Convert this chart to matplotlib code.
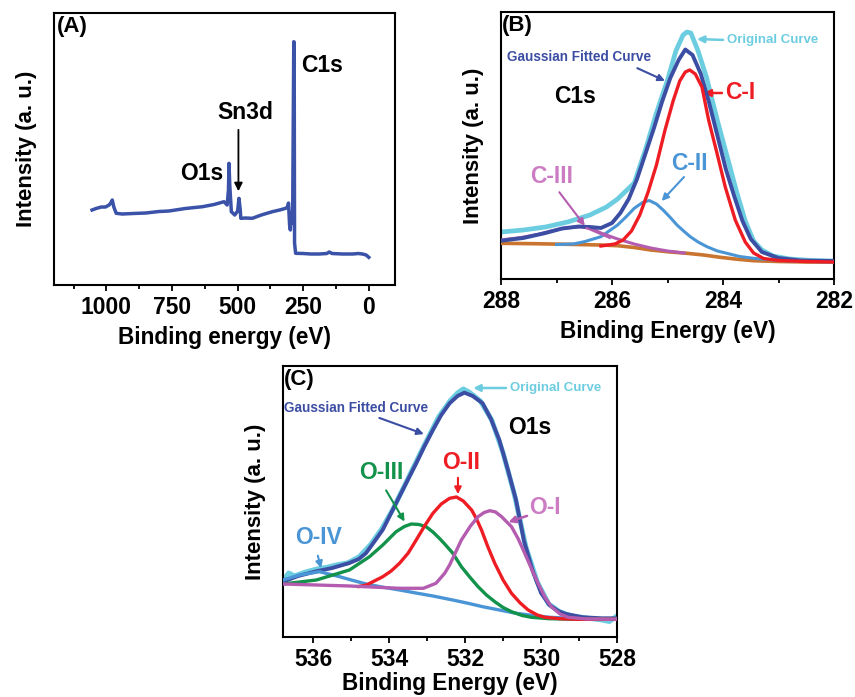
"""
XPS figure: (A) survey spectrum, (B) C1s and (C) O1s Gaussian fits.
"""

import matplotlib
matplotlib.use("Agg")
import matplotlib.pyplot as plt
from matplotlib.ticker import FixedLocator

plt.rcParams["font.family"] = ["Liberation Sans", "DejaVu Sans"]
plt.rcParams["font.weight"] = "bold"
plt.rcParams["axes.labelweight"] = "bold"

# ---------------- (A) survey ----------------
survey_ev = [1055, 1040, 1020, 1004, 990, 984, 978, 972, 963, 940, 900, 850, 800,
             762, 700, 634, 590, 552, 540, 535, 533, 530, 524, 511, 500, 495, 490,
             488, 470, 444, 410, 368, 340, 317, 310, 306, 302, 299, 296, 292, 290,
             286, 284.5, 283, 279, 250, 220, 189, 160, 151, 140, 100, 62, 40, 24, 10, 0]
survey_int = [75, 76.5, 78, 78, 80, 82, 85, 78, 71.7, 71, 71.5, 72, 73.5,
              74, 76.5, 78.3, 80.5, 83.3, 80, 95, 121.7, 100, 73.3, 70, 74, 86.7, 75,
              66.7, 67, 66.7, 70, 73.3, 75, 76.7, 78, 82, 60, 55, 72, 62, 80,
              243.3, 243, 42, 31.7, 31.5, 31, 31, 31.5, 33, 31.5, 31, 31, 31.5, 31, 30, 27.7]

# ---------------- (B) C1s ----------------
c1s_orig_ev = [288.0, 287.6, 287.2, 286.8, 286.4, 286.1, 285.9, 285.75, 285.6, 285.4,
               285.2, 285.0, 284.85, 284.72, 284.65, 284.58, 284.45, 284.3, 284.1,
               283.9, 283.75, 283.6, 283.45, 283.3, 283.1, 282.8, 282.4, 282.0]
c1s_orig = [47, 49, 52, 57, 64, 72, 80, 88, 96, 129,
            166, 199, 228, 244, 247, 246, 228, 202, 158,
            117, 86, 58, 38, 29, 23, 20, 18.5, 18]

c1s_fit_ev = [288.0, 287.6, 287.2, 286.9, 286.6, 286.4, 286.2, 286.0, 285.85, 285.7,
              285.55, 285.4, 285.25, 285.1, 284.95, 284.8, 284.68, 284.55, 284.4,
              284.25, 284.1, 283.95, 283.8, 283.65, 283.5, 283.3, 283.0, 282.6, 282.0]
c1s_fit = [38.3, 41, 46, 50.5, 52.5, 52, 51, 56, 66, 80,
           100, 125, 150, 177, 201, 219, 229.5, 224, 205,
           176, 143, 110, 83, 58, 40, 27, 21, 18.5, 18]

c1_ev = [286.2, 285.95, 285.8, 285.65, 285.5, 285.35, 285.2, 285.05, 284.9, 284.78,
         284.68, 284.6, 284.5, 284.38, 284.26, 284.11, 283.96, 283.78, 283.6, 283.45,
         283.27, 283.0, 282.5, 282.0]
c1 = [33, 35, 39, 48, 64, 87, 114, 148, 178, 198,
      207, 209, 205, 192, 159, 126, 92, 59, 37, 26,
      20.5, 18.5, 17.5, 17]

c2_ev = [287.0, 286.7, 286.5, 286.2, 285.9, 285.75, 285.6, 285.45, 285.33, 285.2,
         285.08, 284.95, 284.83, 284.7, 284.59, 284.45, 284.29, 284.1, 283.93, 283.7,
         283.45, 283.0, 282.5, 282.0]
c2 = [34.5, 35, 37.3, 42.3, 54, 62, 70.7, 76.5, 78.5, 75,
      69, 61.5, 54, 47.5, 42.3, 37, 32.3, 28, 25.7, 22.5,
      20.7, 18.5, 17.5, 17]

c3_ev = [288.0, 287.64, 287.3, 287.1, 286.85, 286.56, 286.35, 286.2, 285.9, 285.6,
         285.3, 285.0, 284.7]
c3 = [39, 41.5, 45, 48, 51, 52.3, 50, 46, 40, 35, 31, 28, 26]

c_base_ev = [288.0, 287.4, 286.8, 286.2, 285.9, 285.6, 285.3, 284.95, 284.65, 284.35,
             284.05, 283.75, 283.45, 283.0, 282.5, 282.0]
c_base = [35.7, 35.3, 34.7, 34.0, 33.3, 31.5, 29, 27, 25.7, 24,
          21.7, 19.8, 18.3, 17.5, 17, 17]

# ---------------- (C) O1s ----------------
o1s_orig_ev = [536.8, 536.65, 536.5, 536.2, 535.9, 535.6, 535.4, 535.1, 534.8, 534.5,
               534.2, 533.9, 533.5, 533.1, 532.7, 532.4, 532.2, 532.05, 531.9, 531.6,
               531.3, 531.0, 530.7, 530.4, 530.1, 529.8, 529.5, 529.2, 528.8, 528.4,
               528.2, 528.0]
o1s_orig = [56, 64, 61, 65, 68, 70, 72, 74, 80, 92,
            108, 128, 159, 190, 220, 236, 244, 248, 245, 236,
            217, 184, 142, 90, 55, 33, 25, 21, 19, 17,
            15.5, 21]

o1s_fit_ev = [536.8, 536.4, 535.92, 535.5, 535.05, 534.8, 534.61, 534.4, 534.17, 533.95,
              533.73, 533.5, 533.29, 533.07, 532.85, 532.63, 532.41, 532.2, 532.02, 531.8,
              531.54, 531.32, 531.1, 530.88, 530.66, 530.45, 530.22, 530.0, 529.78, 529.55,
              529.34, 528.9, 528.4, 528.0]
o1s_fit = [55.3, 61, 65.7, 69, 74, 78, 84, 95, 107.3, 124,
           140.7, 158, 173.7, 191, 207, 222, 233.7, 241, 244.3, 241,
           233.7, 218, 197, 168, 137, 96, 66, 44, 32, 26,
           23, 19.7, 18.7, 18.7]

o1_ev = [536.8, 535.05, 533.73, 533.1, 532.77, 532.54, 532.41, 532.1, 531.86, 531.66,
         531.5, 531.35, 531.2, 531.04, 530.78, 530.6, 530.43, 530.25, 530.08, 529.9,
         529.73, 529.5, 529.29, 528.8, 528.0]
o1 = [53, 51, 48.7, 48.7, 53.7, 63.7, 72, 97, 111, 120.3,
      124.5, 126.3, 125, 120.3, 110.3, 98, 83.7, 68, 53.7, 40,
      30.3, 23, 19.7, 18, 17.7]

o2_ev = [534.8, 534.6, 534.17, 533.95, 533.73, 533.5, 533.29, 533.07, 532.85, 532.63,
         532.41, 532.23, 532.05, 531.83, 531.7, 531.57, 531.4, 531.22, 531.0, 530.78,
         530.55, 530.34, 530.1, 529.9, 529.5, 529.03, 528.0]
o2 = [50.5, 52, 60.3, 66, 73.7, 84, 97, 111, 123.7, 133,
      138.7, 140, 136, 127, 118, 107, 90, 73.7, 57, 43.7,
      34, 27, 22, 19.7, 18.3, 17.7, 17.7]

o3_ev = [536.8, 535.92, 535.05, 534.52, 534.17, 533.82, 533.6, 533.42, 533.22, 533.03,
         532.85, 532.68, 532.54, 532.33, 532.1, 531.88, 531.66, 531.44, 531.22, 531.0,
         530.78, 530.5, 530.26, 529.8, 529.03, 528.0]
o3 = [53, 57, 67, 80.3, 92, 105.3, 110.5, 113, 112.5, 110.3,
      105, 98.7, 93, 84, 70.3, 60, 50.3, 42, 35.3, 29.5,
      25.3, 21.5, 19.7, 18.3, 17.7, 17.7]

o4_ev = [536.8, 536.36, 535.84, 535.31, 535.0, 534.61, 534.2, 533.73, 533.3, 532.85,
         532.33, 531.9, 531.54, 531.1, 530.66, 530.2, 529.78, 529.0, 528.0]
o4 = [57, 62, 65.3, 60.3, 57, 53, 50, 47, 44, 41,
      37, 33.5, 30.3, 27, 23.7, 21.5, 19.7, 18.3, 18]

NAVY = "#3c4ea3"
CYAN = "#6dcde0"
RED = "#ee1d24"
LBLUE = "#4a95d5"
ORCHID = "#b45cb0"
ORCHID_TXT = "#cc7cc3"
ORANGE = "#c9742f"
GREEN = "#12924a"

LBL = 16.5   # size of the peak labels


def style_axes(ax, xlabel, xpad=5):
    for s in ax.spines.values():
        s.set_linewidth(1.5)
    ax.set_yticks([])
    ax.tick_params(axis="x", which="both", direction="out", width=1.3,
                   labelsize=16.5, pad=4)
    ax.tick_params(axis="x", which="major", length=4)
    ax.tick_params(axis="x", which="minor", length=3)
    ax.set_xlabel(xlabel, fontsize=16.3, labelpad=xpad)
    ax.set_ylabel("Intensity (a. u.)", fontsize=16, labelpad=12.5)


def panel_a(ax):
    ax.plot(survey_ev, survey_int, color="#3b52a9", lw=2.5, solid_joinstyle="round")
    ax.set_xlim(1200, -100)
    ax.set_ylim(0, 272)
    ax.set_xticks([1000, 750, 500, 250, 0])
    ax.xaxis.set_minor_locator(FixedLocator([1125, 875, 625, 375, 125]))
    style_axes(ax, "Binding energy (eV)")
    ax.text(0.008, 0.99, "(A)", transform=ax.transAxes, fontsize=16,
            ha="left", va="top")
    ax.text(177, 220, "C1s", fontsize=LBL, ha="center", va="center")
    ax.text(469, 173, "Sn3d", fontsize=LBL, ha="center", va="center")
    ax.text(635, 112, "O1s", fontsize=LBL, ha="center", va="center")
    ax.annotate("", xy=(497, 91), xytext=(497, 158),
                arrowprops=dict(arrowstyle="-|>", color="black", lw=1.3,
                                mutation_scale=12))


def panel_b(ax):
    ax.plot(c1s_orig_ev, c1s_orig, color=CYAN, lw=3.4, zorder=2)
    ax.plot(c_base_ev, c_base, color=ORANGE, lw=2.6, zorder=3)
    ax.plot(c2_ev, c2, color=LBLUE, lw=2.2, zorder=4)
    ax.plot(c3_ev, c3, color=ORCHID, lw=2.2, zorder=4)
    ax.plot(c1s_fit_ev, c1s_fit, color=NAVY, lw=2.8, zorder=5)
    ax.plot(c1_ev, c1, color=RED, lw=2.4, zorder=6)
    ax.set_xlim(288, 282)
    ax.set_ylim(0, 267)
    ax.set_xticks([288, 286, 284, 282])
    ax.xaxis.set_minor_locator(FixedLocator([287, 285, 283]))
    style_axes(ax, "Binding Energy (eV)")
    ax.text(0.004, 0.99, "(B)", transform=ax.transAxes, fontsize=16,
            ha="left", va="top")
    ax.text(283.93, 239, "Original Curve", fontsize=9.5, color=CYAN,
            ha="left", va="center")
    ax.annotate("", xy=(284.52, 240), xytext=(283.95, 239),
                arrowprops=dict(arrowstyle="-|>", color=CYAN, lw=1.8,
                                mutation_scale=10))
    ax.text(286.59, 222, "Gaussian Fitted Curve", fontsize=9.8, color=NAVY,
            ha="center", va="center")
    ax.annotate("", xy=(285.0, 197), xytext=(285.59, 212),
                arrowprops=dict(arrowstyle="-|>", color=NAVY, lw=1.5,
                                mutation_scale=10))
    ax.text(286.67, 182, "C1s", fontsize=LBL, color="black", ha="center", va="center")
    ax.text(283.69, 186, "C-I", fontsize=LBL, color=RED, ha="center", va="center")
    ax.annotate("", xy=(284.4, 186), xytext=(283.97, 186),
                arrowprops=dict(arrowstyle="-|>", color=RED, lw=1.8,
                                mutation_scale=10))
    ax.text(284.6, 116, "C-II", fontsize=LBL, color=LBLUE, ha="center", va="center")
    ax.annotate("", xy=(285.14, 76), xytext=(284.67, 104),
                arrowprops=dict(arrowstyle="-|>", color=LBLUE, lw=1.5,
                                mutation_scale=10))
    ax.text(287.09, 103, "C-III", fontsize=LBL, color=ORCHID_TXT, ha="center", va="center")
    ax.annotate("", xy=(286.46, 51), xytext=(286.98, 89),
                arrowprops=dict(arrowstyle="-|>", color=ORCHID, lw=1.5,
                                mutation_scale=10), zorder=7)
    ax.plot([286.46, 286.04], [51, 41], color=ORCHID, lw=1.5, zorder=7)


def panel_c(ax):
    ax.plot(o1s_orig_ev, o1s_orig, color=CYAN, lw=3.6, zorder=2)
    ax.plot(o1s_fit_ev, o1s_fit, color=NAVY, lw=2.8, zorder=3)
    ax.plot(o4_ev, o4, color=LBLUE, lw=2.4, zorder=4)
    ax.plot(o3_ev, o3, color=GREEN, lw=2.4, zorder=5)
    ax.plot(o2_ev, o2, color=RED, lw=2.4, zorder=5)
    ax.plot(o1_ev, o1, color=ORCHID, lw=2.4, zorder=6)
    ax.set_xlim(536.8, 528)
    ax.set_ylim(0, 271)
    ax.set_xticks([536, 534, 532, 530, 528])
    ax.xaxis.set_minor_locator(FixedLocator([535, 533, 531, 529]))
    style_axes(ax, "Binding Energy (eV)", xpad=1)
    ax.text(0.004, 0.99, "(C)", transform=ax.transAxes, fontsize=16,
            ha="left", va="top")
    ax.text(530.83, 249, "Original Curve", fontsize=9.5, color=CYAN,
            ha="left", va="center")
    ax.annotate("", xy=(531.86, 249), xytext=(530.85, 249),
                arrowprops=dict(arrowstyle="-|>", color=CYAN, lw=1.8,
                                mutation_scale=10))
    ax.text(534.87, 229, "Gaussian Fitted Curve", fontsize=9.8, color=NAVY,
            ha="center", va="center")
    ax.annotate("", xy=(533.02, 202), xytext=(534.33, 220),
                arrowprops=dict(arrowstyle="-|>", color=NAVY, lw=1.5,
                                mutation_scale=10))
    ax.text(530.3, 209, "O1s", fontsize=LBL, color="black", ha="center", va="center")
    ax.text(532.1, 174, "O-II", fontsize=LBL, color=RED, ha="center", va="center")
    ax.annotate("", xy=(532.19, 140), xytext=(532.19, 162),
                arrowprops=dict(arrowstyle="-|>", color=RED, lw=1.5,
                                mutation_scale=10))
    ax.text(534.2, 164, "O-III", fontsize=LBL, color=GREEN, ha="center", va="center")
    ax.annotate("", xy=(533.56, 113), xytext=(534.12, 149),
                arrowprops=dict(arrowstyle="-|>", color=GREEN, lw=1.5,
                                mutation_scale=10))
    ax.text(529.91, 129, "O-I", fontsize=LBL, color=ORCHID_TXT, ha="center", va="center")
    ax.annotate("", xy=(530.93, 114), xytext=(530.3, 122),
                arrowprops=dict(arrowstyle="-|>", color=ORCHID, lw=1.8,
                                mutation_scale=10))
    ax.text(535.87, 99, "O-IV", fontsize=LBL, color=LBLUE, ha="center", va="center")
    ax.annotate("", xy=(535.78, 66), xytext=(535.9, 84),
                arrowprops=dict(arrowstyle="-|>", color=LBLUE, lw=1.5,
                                mutation_scale=10))


def main():
    fig = plt.figure(figsize=(8.55, 6.97), dpi=100)
    ax_a = fig.add_axes([0.0632, 0.5911, 0.3988, 0.3902])
    ax_b = fig.add_axes([0.5860, 0.5997, 0.3895, 0.3831])
    ax_c = fig.add_axes([0.3310, 0.0861, 0.3906, 0.3888])
    panel_a(ax_a)
    panel_b(ax_b)
    panel_c(ax_c)
    fig.savefig("out.png", dpi=100)
    plt.close(fig)


if __name__ == "__main__":
    main()
